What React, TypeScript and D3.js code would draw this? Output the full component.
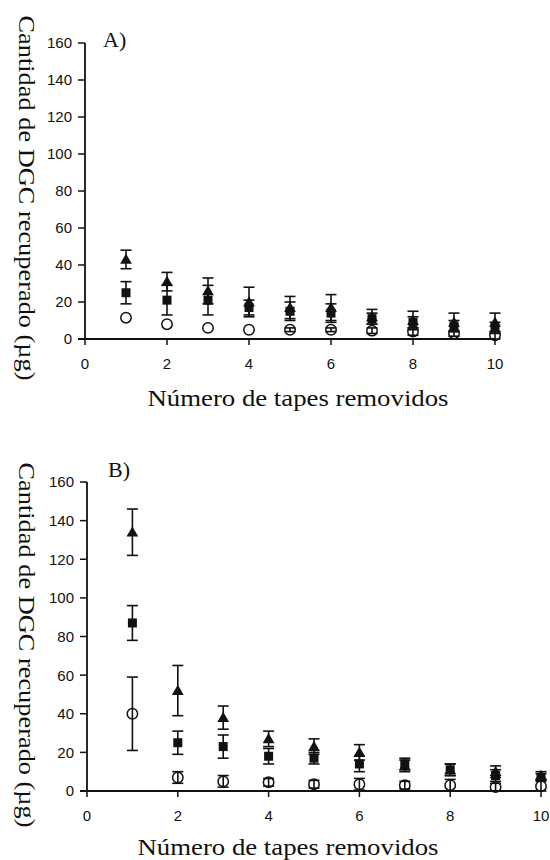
import React from "react";
import * as d3 from "d3";

// Number of tape strips removed (x positions of every series)
const tapes = [1, 2, 3, 4, 5, 6, 7, 8, 9, 10];

// Axis ticks
const xTicks = [0, 2, 4, 6, 8, 10];
const yTicks = [0, 20, 40, 60, 80, 100, 120, 140, 160];

// Panel A — recovered DGC (µg), mean and error
const aTriangle = [43, 31, 26, 20, 17, 17, 12, 10, 9, 9];
const aTriangleErr = [5, 5, 7, 8, 6, 7, 4, 5, 5, 5];
const aSquare = [25, 21, 21, 17, 15, 14, 11, 9, 7, 6];
const aSquareErr = [6, 8, 8, 4, 5, 5, 3, 3, 3, 3];
const aCircle = [11.5, 8, 6, 5, 5, 5, 4.5, 4, 3, 2];
const aCircleErr = [0, 0, 0, 0, 1, 1, 1.5, 2, 1.5, 2];

// Panel B — recovered DGC (µg), mean and error
const bTriangle = [134, 52, 38, 27, 23, 20, 13, 11, 10, 8];
const bTriangleErr = [12, 13, 6, 4, 4, 4, 3, 3, 3, 2];
const bSquare = [87, 25, 23, 18, 17, 14, 14, 11, 8, 7];
const bSquareErr = [9, 6, 6, 4, 3, 4, 3, 3, 3, 2];
const bCircle = [40, 7, 5, 4.5, 3.5, 3.5, 3, 3, 2, 2.5];
const bCircleErr = [19, 3, 3, 2, 2, 3, 2, 3, 2, 3];

const yTitle = "Cantidad de DGC recuperado (µg)";
const xTitle = "Número de tapes removidos";

type Series = { kind: "triangle" | "square" | "circle"; values: number[]; errors: number[] };

type PanelSpec = {
  label: string;
  left: number;
  right: number;
  top: number;
  bottom: number;
  series: Series[];
  yTitleX: number;
  yTitleY: number;
  xTitleX: number;
  xTitleY: number;
  labelX: number;
  labelY: number;
};

const panels: PanelSpec[] = [
  {
    label: "A)",
    left: 85,
    right: 495,
    top: 43,
    bottom: 339,
    series: [
      { kind: "circle", values: aCircle, errors: aCircleErr },
      { kind: "square", values: aSquare, errors: aSquareErr },
      { kind: "triangle", values: aTriangle, errors: aTriangleErr },
    ],
    yTitleX: 19,
    yTitleY: 198,
    xTitleX: 298,
    xTitleY: 406,
    labelX: 103,
    labelY: 47,
  },
  {
    label: "B)",
    left: 87,
    right: 541,
    top: 482,
    bottom: 791,
    series: [
      { kind: "circle", values: bCircle, errors: bCircleErr },
      { kind: "square", values: bSquare, errors: bSquareErr },
      { kind: "triangle", values: bTriangle, errors: bTriangleErr },
    ],
    yTitleX: 19,
    yTitleY: 645,
    xTitleX: 288,
    xTitleY: 855,
    labelX: 108,
    labelY: 477,
  },
];

const serif = "'Liberation Serif', 'Times New Roman', serif";
const sans = "'Liberation Sans', Arial, sans-serif";

function Marker({ kind, cx, cy }: { kind: Series["kind"]; cx: number; cy: number }) {
  if (kind === "circle") {
    return <circle cx={cx} cy={cy} r={5.2} fill="none" stroke="#111" strokeWidth={1.5} />;
  }
  if (kind === "square") {
    return <rect x={cx - 4.5} y={cy - 4.5} width={9} height={9} fill="#111" />;
  }
  const path = d3.symbol(d3.symbolTriangle, 60)();
  return <path d={path ?? ""} transform={`translate(${cx},${cy + 1})`} fill="#111" />;
}

function Panel({ p }: { p: PanelSpec }) {
  const x = d3.scaleLinear().domain([0, 10]).range([p.left, p.right]);
  const y = d3.scaleLinear().domain([0, 160]).range([p.bottom, p.top]);
  const cap = 5.5;

  return (
    <g>
      {/* error bars */}
      {p.series.map((s, si) =>
        tapes.map((t, i) => {
          const e = s.errors[i];
          if (!e) return null;
          const cx = x(t);
          const y1 = y(s.values[i] + e);
          const y0 = y(Math.max(0, s.values[i] - e));
          return (
            <g key={`e${si}-${i}`} stroke="#111" strokeWidth={1.6}>
              <line x1={cx} x2={cx} y1={y1} y2={y0} />
              <line x1={cx - cap} x2={cx + cap} y1={y1} y2={y1} />
              <line x1={cx - cap} x2={cx + cap} y1={y0} y2={y0} />
            </g>
          );
        })
      )}

      {/* markers */}
      {p.series.map((s, si) =>
        tapes.map((t, i) => (
          <Marker key={`m${si}-${i}`} kind={s.kind} cx={x(t)} cy={y(s.values[i])} />
        ))
      )}

      {/* y axis */}
      <line x1={p.left} x2={p.left} y1={y(160)} y2={y(0)} stroke="#111" strokeWidth={1.8} />
      {yTicks.map((v) => (
        <g key={`yt${v}`}>
          <line x1={p.left - 7} x2={p.left} y1={y(v)} y2={y(v)} stroke="#111" strokeWidth={1.5} />
          <text
            x={p.left - 13}
            y={y(v)}
            dy="0.36em"
            textAnchor="end"
            fontFamily={sans}
            fontSize={15}
            fill="#111"
          >
            {v}
          </text>
        </g>
      ))}

      {/* x axis */}
      <line x1={p.left - 7} x2={p.right} y1={y(0)} y2={y(0)} stroke="#111" strokeWidth={1.8} />
      {xTicks.map((v) => (
        <g key={`xt${v}`}>
          <line x1={x(v)} x2={x(v)} y1={y(0)} y2={y(0) + 6} stroke="#111" strokeWidth={1.5} />
          <text
            x={x(v)}
            y={y(0) + 30}
            textAnchor="middle"
            fontFamily={sans}
            fontSize={15}
            fill="#111"
          >
            {v}
          </text>
        </g>
      ))}

      {/* titles */}
      <text
        x={p.xTitleX}
        y={p.xTitleY}
        textAnchor="middle"
        fontFamily={serif}
        fontSize={24}
        textLength={301}
        lengthAdjust="spacingAndGlyphs"
        fill="#111"
      >
        {xTitle}
      </text>
      <text
        transform={`translate(${p.yTitleX},${p.yTitleY}) rotate(90)`}
        textAnchor="middle"
        fontFamily={serif}
        fontSize={24}
        textLength={365}
        lengthAdjust="spacingAndGlyphs"
        fill="#111"
      >
        {yTitle}
      </text>
      <text x={p.labelX} y={p.labelY} fontFamily={serif} fontSize={22} fill="#111">
        {p.label}
      </text>
    </g>
  );
}

export default function App() {
  return (
    <svg
      width={550}
      height={860}
      style={{ position: "absolute", left: 0, top: 0, background: "#fff" }}
    >
      <rect width={550} height={860} fill="#fff" />
      {panels.map((p) => (
        <Panel key={p.label} p={p} />
      ))}
    </svg>
  );
}
